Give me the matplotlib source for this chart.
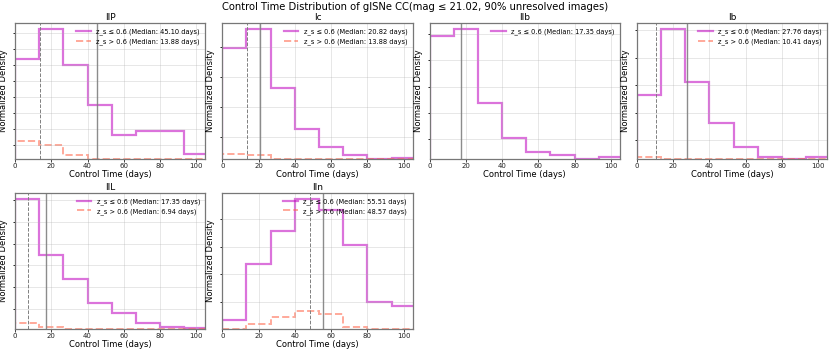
import numpy as np
import matplotlib
matplotlib.use("Agg")
import matplotlib.pyplot as plt

# ---------------- data ----------------
bin_edges = [0.0, 13.33, 26.67, 40.0, 53.33, 66.67, 80.0, 93.33, 106.67]

types = ["IIP", "Ic", "IIb", "Ib", "IIL", "IIn"]

low_IIP = [0.737, 0.951, 0.688, 0.395, 0.176, 0.210, 0.205, 0.041]
high_IIP = [0.134, 0.105, 0.032, 0.005, 0.0, 0.0, 0.0, 0.0]
low_Ic = [0.793, 0.927, 0.512, 0.215, 0.088, 0.032, 0.005, 0.012]
high_Ic = [0.039, 0.029, 0.0, 0.0, 0.0, 0.0, 0.0, 0.0]
low_IIb = [0.907, 0.956, 0.415, 0.156, 0.051, 0.032, 0.005, 0.020]
high_IIb = None
low_Ib = [0.473, 0.951, 0.566, 0.263, 0.093, 0.020, 0.005, 0.020]
high_Ib = [0.020, 0.0, 0.0, 0.0, 0.0, 0.0, 0.0, 0.0]
low_IIL = [0.952, 0.539, 0.363, 0.191, 0.118, 0.044, 0.017, 0.010]
high_IIL = [0.044, 0.017, 0.0, 0.0, 0.0, 0.0, 0.0, 0.0]
low_IIn = [0.069, 0.478, 0.725, 0.956, 0.873, 0.615, 0.199, 0.169]
high_IIn = [0.0, 0.037, 0.088, 0.130, 0.113, 0.015, 0.0, 0.0]

low_series = [low_IIP, low_Ic, low_IIb, low_Ib, low_IIL, low_IIn]
high_series = [high_IIP, high_Ic, high_IIb, high_Ib, high_IIL, high_IIn]

median_low = [45.10, 20.82, 17.35, 27.76, 17.35, 55.51]
median_high = [13.88, 13.88, None, 10.41, 6.94, 48.57]

# y tick layout (fraction of axis height: first tick, step) — styling only
ytick_layout = [(0.104, 0.117), (0.162, 0.220), (0.152, 0.191),
                (0.141, 0.201), (0.147, 0.160), (0.201, 0.202)]

# ---------------- figure ----------------
fig, axes = plt.subplots(2, 4, figsize=(8.3, 3.51), dpi=100)
fig.subplots_adjust(left=0.0181, right=0.9967, top=0.9345, bottom=0.0627,
                    wspace=0.089, hspace=0.245)

low_color = "m"
high_color = "#ff6347"
spine_color = "#777777"

for i, t in enumerate(types):
    ax = axes.flat[i]
    low = low_series[i]
    high = high_series[i]
    ax.stairs(low, bin_edges, color=low_color, alpha=0.55, lw=1.6,
              label=f"z_s ≤ 0.6 (Median: {median_low[i]:.2f} days)")
    if high is not None:
        ax.stairs(high, bin_edges, color=high_color, alpha=0.55, lw=1.4,
                  linestyle="--",
                  label=f"z_s > 0.6 (Median: {median_high[i]:.2f} days)")
    ax.axvline(median_low[i], color="gray", lw=1.0, alpha=0.9)
    if median_high[i] is not None:
        ax.axvline(median_high[i], color="gray", lw=0.7, linestyle="--")

    top = max(low) * 1.05
    ax.set_ylim(0, top)
    ax.set_xlim(0, 105)
    first, step = ytick_layout[i]
    ax.set_yticks(np.arange(first, 0.99, step) * top)
    ax.set_yticklabels([])
    ax.set_xticks([0, 20, 40, 60, 80, 100])
    ax.tick_params(axis="x", labelsize=5, length=2, width=0.6, pad=1,
                   colors="#222222")
    ax.tick_params(axis="y", length=1.5, width=0.6)
    ax.grid(True, color="#b0b0b0", alpha=0.35, lw=0.6)
    for s in ax.spines.values():
        s.set_color(spine_color)
        s.set_linewidth(0.9)
    ax.set_title(t, fontsize=6.5, pad=2)
    ax.set_xlabel("Control Time (days)", fontsize=6, labelpad=0.5)
    ax.set_ylabel("Normalized Density", fontsize=6, labelpad=0)
    ax.legend(loc="upper right", frameon=False, fontsize=4.8,
              handlelength=2.2, borderaxespad=0.4, labelspacing=0.45)

for j in range(len(types), 8):
    axes.flat[j].axis("off")

fig.suptitle("Control Time Distribution of glSNe CC(mag ≤ 21.02, 90% unresolved images)",
             fontsize=7.2, y=0.995)

fig.savefig("out.png", dpi=100)
